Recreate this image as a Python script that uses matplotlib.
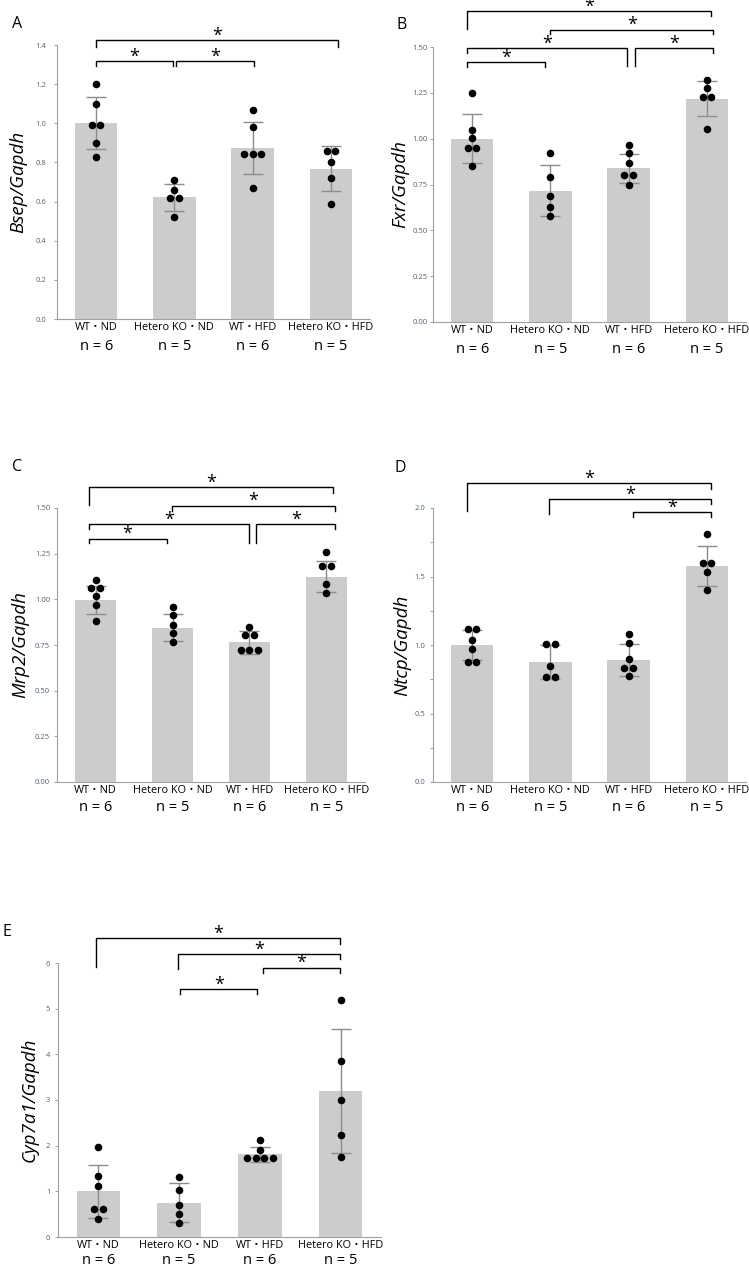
import numpy as np
import matplotlib
matplotlib.use("Agg")
import matplotlib.pyplot as plt

W, H = 749, 1267

groups = ["WT・ND", "Hetero KO・ND", "WT・HFD", "Hetero KO・HFD"]
n_labels = ["n = 6", "n = 5", "n = 6", "n = 5"]

# A - Bsep/Gapdh
bsep_pts = [[1.20, 1.10, 0.99, 0.99, 0.90, 0.83],
            [0.71, 0.66, 0.62, 0.62, 0.52],
            [1.07, 0.98, 0.845, 0.845, 0.845, 0.67],
            [0.86, 0.86, 0.80, 0.72, 0.59]]
bsep_mean = [1.00, 0.622, 0.874, 0.767]
bsep_sd = [0.132, 0.070, 0.135, 0.115]

# B - Fxr/Gapdh
fxr_pts = [[1.25, 1.05, 1.005, 0.95, 0.95, 0.85],
           [0.92, 0.79, 0.69, 0.63, 0.58],
           [0.965, 0.92, 0.87, 0.80, 0.80, 0.745],
           [1.32, 1.275, 1.225, 1.225, 1.055]]
fxr_mean = [1.00, 0.716, 0.838, 1.217]
fxr_sd = [0.135, 0.140, 0.079, 0.096]

# C - Mrp2/Gapdh
mrp2_pts = [[1.105, 1.06, 1.06, 1.02, 0.97, 0.88],
            [0.96, 0.915, 0.86, 0.815, 0.765],
            [0.85, 0.805, 0.805, 0.72, 0.72, 0.72],
            [1.26, 1.18, 1.18, 1.085, 1.035]]
mrp2_mean = [0.996, 0.845, 0.764, 1.124]
mrp2_sd = [0.077, 0.074, 0.062, 0.085]

# D - Ntcp/Gapdh
ntcp_pts = [[1.12, 1.12, 1.035, 0.97, 0.875, 0.875],
            [1.005, 1.005, 0.845, 0.765, 0.765],
            [1.08, 1.015, 0.90, 0.835, 0.835, 0.775],
            [1.81, 1.595, 1.595, 1.53, 1.40]]
ntcp_mean = [1.00, 0.878, 0.89, 1.578]
ntcp_sd = [0.112, 0.123, 0.115, 0.146]

# E - Cyp7a1/Gapdh
cyp_pts = [[1.97, 1.33, 1.11, 0.62, 0.62, 0.39],
           [1.31, 1.04, 0.69, 0.50, 0.31],
           [2.12, 1.91, 1.72, 1.72, 1.72, 1.72],
           [5.18, 3.85, 2.99, 2.23, 1.75]]
cyp_mean = [1.00, 0.745, 1.81, 3.197]
cyp_sd = [0.584, 0.427, 0.168, 1.354]

# significance brackets: (x left, x right, line y, left leg end, right leg end)
bsep_br = [(0.0, 0.98, 1.318, 1.293, 1.293),
           (1.02, 2.02, 1.318, 1.293, 1.293),
           (0.0, 3.09, 1.424, 1.392, 1.392)]
fxr_br = [(-0.06, 3.05, 1.695, 1.599, 1.668),
          (1.0, 3.08, 1.595, 1.571, 1.571),
          (-0.06, 1.98, 1.495, 1.467, 1.394),
          (2.08, 3.08, 1.495, 1.394, 1.467),
          (-0.06, 0.93, 1.42, 1.389, 1.389)]
mrp2_br = [(-0.09, 3.09, 1.613, 1.514, 1.582),
           (0.99, 3.11, 1.513, 1.481, 1.481),
           (-0.08, 2.0, 1.412, 1.385, 1.308),
           (2.09, 3.11, 1.412, 1.308, 1.385),
           (-0.09, 0.925, 1.333, 1.308, 1.308)]
ntcp_br = [(-0.07, 3.05, 2.183, 1.975, 2.139),
           (0.98, 3.05, 2.066, 1.958, 2.032),
           (2.06, 3.05, 1.968, 1.934, 1.934)]
cyp_br = [(-0.03, 2.99, 6.54, 5.91, 6.42),
          (0.99, 2.99, 6.20, 5.87, 6.09),
          (2.04, 2.99, 5.90, 5.79, 5.79),
          (1.01, 1.97, 5.43, 5.33, 5.33)]

panels = [
    dict(letter="A", letter_xy=(12, 24), ylabel="Bsep/Gapdh", label_x=18,
         box=(57, 45, 370, 319), pts=bsep_pts, mean=bsep_mean, sd=bsep_sd, br=bsep_br,
         ymax=1.4, ticks=np.arange(0, 1.41, 0.2), fmt="{:.1f}", minor=None, ypad=5.5, n_off=-20),
    dict(letter="B", letter_xy=(396, 25), ylabel="Fxr/Gapdh", label_x=400,
         box=(433, 47, 746, 322), pts=fxr_pts, mean=fxr_mean, sd=fxr_sd, br=fxr_br,
         ymax=1.5, ticks=np.arange(0, 1.51, 0.25), fmt="{:.2f}", minor=None, ypad=1.5, n_off=-19.5),
    dict(letter="C", letter_xy=(12, 467), ylabel="Mrp2/Gapdh", label_x=20,
         box=(57, 508, 365, 782), pts=mrp2_pts, mean=mrp2_mean, sd=mrp2_sd, br=mrp2_br,
         ymax=1.5, ticks=np.arange(0, 1.51, 0.25), fmt="{:.2f}", minor=None, ypad=2.5, n_off=-18.5),
    dict(letter="D", letter_xy=(395, 468), ylabel="Ntcp/Gapdh", label_x=402,
         box=(433, 508, 746, 782), pts=ntcp_pts, mean=ntcp_mean, sd=ntcp_sd, br=ntcp_br,
         ymax=2.0, ticks=np.arange(0, 2.01, 0.5), fmt="{:.1f}", minor=np.arange(0.25, 2.0, 0.5), ypad=3,
         n_off=-18.5),
    dict(letter="E", letter_xy=(2, 932), ylabel="Cyp7a1/Gapdh", label_x=30,
         box=(58, 963, 381, 1237), pts=cyp_pts, mean=cyp_mean, sd=cyp_sd, br=cyp_br,
         ymax=6, ticks=np.arange(0, 7, 1), fmt="{:.0f}", minor=None, ypad=3, n_off=-17),
]

TXT = ["Open Sans", "Noto Sans CJK JP", "DejaVu Sans"]
plt.rcParams["font.family"] = TXT

fig = plt.figure(figsize=(W / 100, H / 100), dpi=100)


def draw_panel(p):
    l, t, r, b = p["box"]
    ax = fig.add_axes([l / W, 1 - b / H, (r - l) / W, (b - t) / H])
    x = np.arange(len(groups))
    ax.bar(x, p["mean"], width=0.54, color="#cccccc", zorder=1)
    ax.errorbar(x, p["mean"], yerr=p["sd"], fmt="none", ecolor="#8c8c8c",
                elinewidth=1, capsize=7, capthick=1, zorder=2)
    # side by side for equal values
    step = 8.7 / ((r - l) / 4)
    for i, vals in enumerate(p["pts"]):
        v, c = np.unique(vals, return_counts=True)
        xs, ys = [], []
        for val, k in zip(v, c):
            for j in range(k):
                xs.append(i + (j - (k - 1) / 2) * step)
                ys.append(val)
        ax.scatter(xs, ys, s=30, color="black", linewidths=0, zorder=3)

    for xl, xr, y, yl, yr in p["br"]:
        ax.plot([xl, xl, xr, xr], [yl, y, y, yr], color="black", lw=1, clip_on=False)
        ax.annotate("*", ((xl + xr) / 2, y), xytext=(0, -0.5), textcoords="offset points",
                    ha="center", va="baseline", fontsize=13, annotation_clip=False)

    ax.set_xlim(-0.5, 3.5)
    ax.set_ylim(0, p["ymax"])
    ax.set_yticks(p["ticks"])
    ax.set_yticklabels([p["fmt"].format(v) for v in p["ticks"]])
    if p["minor"] is not None:
        ax.set_yticks(p["minor"], minor=True)
    ax.tick_params(axis="y", which="both", length=2.5, width=0.7, color="#a0a0a0",
                   labelsize=5.5, labelcolor="#56606e", pad=p["ypad"])
    ax.set_xticks(x)
    ax.set_xticklabels(groups, fontsize=7.8)
    ax.tick_params(axis="x", length=0, pad=2.5)
    for i, n in enumerate(n_labels):
        ax.annotate(n, (i, 0), xycoords=("data", "axes fraction"), xytext=(0, p["n_off"]),
                    textcoords="offset points", ha="center", va="center", fontsize=10.5)
    for s in ["top", "right"]:
        ax.spines[s].set_visible(False)
    for s in ["left", "bottom"]:
        ax.spines[s].set_color("#a0a0a0")
        ax.spines[s].set_linewidth(0.8)

    ax.set_ylabel(p["ylabel"], fontsize=13.5, style="italic", va="center")
    ax.yaxis.set_label_coords((p["label_x"] - l) / (r - l), 0.5)
    fig.text(p["letter_xy"][0] / W, 1 - p["letter_xy"][1] / H, p["letter"],
             fontsize=11.5, ha="left", va="center")


for p in panels:
    draw_panel(p)

fig.savefig("out.png", dpi=100)
